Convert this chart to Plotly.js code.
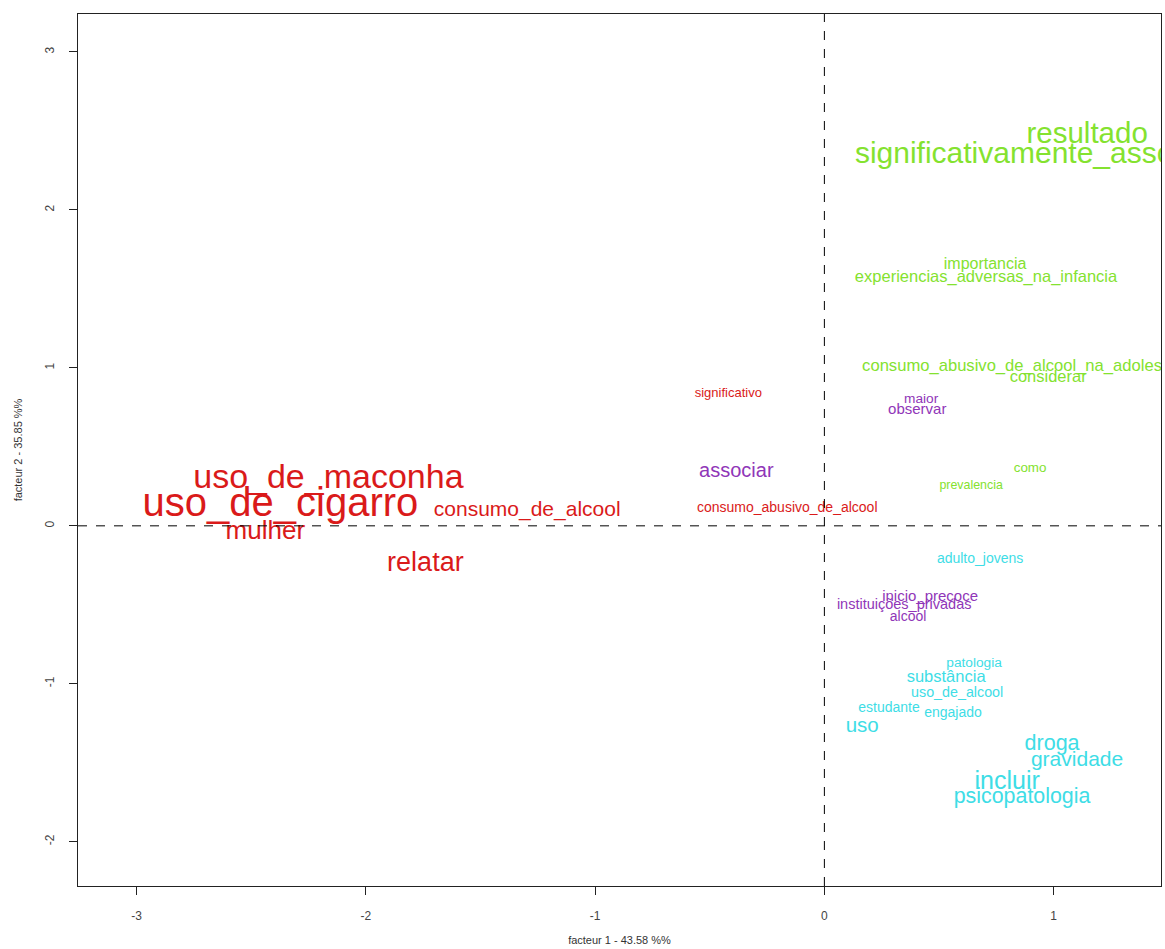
<!DOCTYPE html>
<html>
<head>
<meta charset="utf-8">
<script src="https://cdn.plot.ly/plotly-3.0.1.min.js"></script>
<style>html,body{margin:0;padding:0;background:#fff;}#chart{width:1165px;height:949px;}</style>
</head>
<body>
<div id="chart"></div>
<script>
// Red class
const redWords = ["uso_de_maconha","uso_de_cigarro","consumo_de_alcool","mulher","relatar","significativo","consumo_abusivo_de_alcool"];
const redX = [-2.163,-2.372,-1.296,-2.438,-1.740,-0.419,-0.162];
const redY = [0.291,0.124,0.095,-0.044,-0.241,0.835,0.108];
const redSize = [34,40,21,26,27,13,14];

// Purple class
const purpleWords = ["associar","maior","observar","inicio_precoce","instituições_privadas","alcool"];
const purpleX = [-0.384,0.422,0.405,0.461,0.348,0.365];
const purpleY = [0.342,0.797,0.734,-0.449,-0.506,-0.582];
const purpleSize = [20,13.7,15,15,14.5,14];

// Green class
const greenWords = ["resultado","significativamente_associado","importancia","experiencias_adversas_na_infancia","consumo_abusivo_de_alcool_na_adolescencia","considerar","como","prevalencia"];
const greenX = [1.146,0.984,0.701,0.705,0.923,0.976,0.897,0.640];
const greenY = [2.468,2.342,1.652,1.570,1.006,0.937,0.361,0.253];
const greenSize = [29.5,30,16,16.5,16.6,16.5,13.4,12.4];

// Cyan class
const cyanWords = ["adulto_jovens","patologia","substância","uso_de_alcool","estudante","engajado","uso","droga","gravidade","incluir","psicopatologia"];
const cyanX = [0.679,0.653,0.531,0.579,0.282,0.561,0.165,0.993,1.102,0.797,0.862];
const cyanY = [-0.215,-0.873,-0.962,-1.063,-1.158,-1.190,-1.272,-1.386,-1.487,-1.627,-1.722];
const cyanSize = [14,13.7,16.5,14.3,14,14,20.5,21.5,21,25,21.4];

const xTicks = [-3,-2,-1,0,1];
const yTicks = [-2,-1,0,1,2,3];

const FONT = "Liberation Sans, Arial, sans-serif";
function wordTrace(words, xs, ys, sizes, color) {
  return {
    type: "scatter", mode: "text",
    x: xs, y: ys, text: words,
    textposition: "middle center",
    textfont: {family: FONT, size: sizes, color: color},
    cliponaxis: true, hoverinfo: "skip", showlegend: false
  };
}

const data = [
  wordTrace(redWords, redX, redY, redSize, "#DA1A1A"),
  wordTrace(purpleWords, purpleX, purpleY, purpleSize, "#9036B8"),
  wordTrace(greenWords, greenX, greenY, greenSize, "#84E22F"),
  wordTrace(cyanWords, cyanX, cyanY, cyanSize, "#3EDDE6")
];

const axisCommon = {
  showgrid: false, zeroline: false,
  showline: true, mirror: true, linecolor: "#222", linewidth: 1.3,
  ticks: "outside", ticklen: 8, tickcolor: "#222", tickwidth: 1,
  tickfont: {family: FONT, size: 12, color: "#444"}
};

const layout = {
  width: 1165, height: 949,
  margin: {l: 78, r: 4, t: 14, b: 63},
  paper_bgcolor: "#fff", plot_bgcolor: "#fff",
  xaxis: Object.assign({}, axisCommon, {
    range: [-3.255, 1.468], tickvals: xTicks, ticktext: xTicks.map(String),
    ticklabelstandoff: 10,
    title: {text: "facteur 1 - 43.58 %%", font: {family: FONT, size: 11, color: "#333"}, standoff: 14}
  }),
  yaxis: Object.assign({}, axisCommon, {
    range: [-2.28, 3.24], tickvals: yTicks, ticktext: yTicks.map(String), tickangle: -90,
    ticklabelstandoff: 10,
    title: {text: "facteur 2 - 35.85 %%", font: {family: FONT, size: 11, color: "#333"}, standoff: 18}
  }),
  shapes: [
    {type: "line", xref: "x", yref: "paper", x0: 0, x1: 0, y0: 0, y1: 1, line: {color: "#000", width: 1, dash: "dash"}},
    {type: "line", xref: "paper", yref: "y", x0: 0, x1: 1, y0: 0, y1: 0, line: {color: "#000", width: 1, dash: "dash"}}
  ],
  hovermode: false
};

Plotly.newPlot("chart", data, layout, {displayModeBar: false, staticPlot: true});
</script>
</body>
</html>
